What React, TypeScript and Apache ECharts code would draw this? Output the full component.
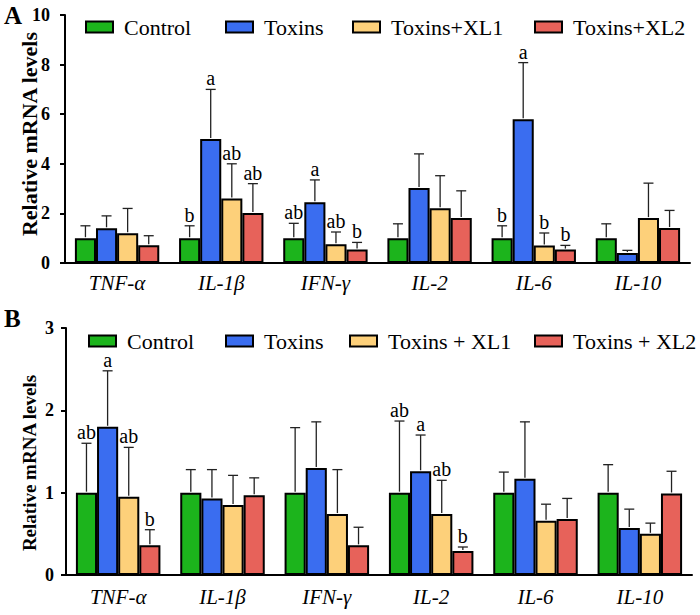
import React, { useEffect, useRef } from "react";
import * as echarts from "echarts";

const categories = ["TNF-α", "IL-1β", "IFN-γ", "IL-2", "IL-6", "IL-10"];

const groupNamesA = ["Control", "Toxins", "Toxins+XL1", "Toxins+XL2"];
const groupNamesB = ["Control", "Toxins", "Toxins + XL1", "Toxins + XL2"];
const colors = ["#1cb41c", "#3a6df0", "#fdd07a", "#e7625a"];

// Panel A means, SD, letters
const controlA = [1.0, 1.0, 1.0, 1.0, 1.0, 1.0];
const toxinsA = [1.4, 5.0, 2.45, 3.02, 5.8, 0.4];
const xl1A = [1.2, 2.6, 0.76, 2.21, 0.71, 1.81];
const xl2A = [0.72, 2.02, 0.54, 1.81, 0.54, 1.41];
const controlSdA = [0.5, 0.5, 0.6, 0.58, 0.5, 0.58];
const toxinsSdA = [0.5, 2.0, 0.9, 1.38, 2.28, 0.11];
const xl1SdA = [1.0, 1.4, 0.49, 1.31, 0.5, 1.41];
const xl2SdA = [0.38, 1.18, 0.29, 1.1, 0.17, 0.71];
const controlLabA = ["", "b", "ab", "", "b", ""];
const toxinsLabA = ["", "a", "a", "", "a", ""];
const xl1LabA = ["", "ab", "ab", "", "b", ""];
const xl2LabA = ["", "ab", "b", "", "b", ""];

// Panel B means, SD, letters
const controlB = [1.0, 1.0, 1.0, 1.0, 1.0, 1.0];
const toxinsB = [1.8, 0.93, 1.3, 1.26, 1.17, 0.57];
const xl1B = [0.95, 0.85, 0.74, 0.74, 0.66, 0.5];
const xl2B = [0.36, 0.97, 0.36, 0.29, 0.68, 0.99];
const controlSdB = [0.6, 0.28, 0.79, 0.87, 0.25, 0.34];
const toxinsSdB = [0.68, 0.35, 0.56, 0.44, 0.69, 0.23];
const xl1SdB = [0.6, 0.36, 0.54, 0.41, 0.2, 0.13];
const xl2SdB = [0.19, 0.21, 0.22, 0.05, 0.25, 0.27];
const controlLabB = ["ab", "", "", "ab", "", ""];
const toxinsLabB = ["a", "", "", "a", "", ""];
const xl1LabB = ["ab", "", "", "ab", "", ""];
const xl2LabB = ["b", "", "", "b", "", ""];

const yTicksA = { min: 0, max: 10, interval: 2 };
const yTicksB = { min: 0, max: 3, interval: 1 };

const SERIF = "Liberation Serif";
const CAT_GAP = 0.19;

export default function App() {
  const ref = useRef<HTMLDivElement>(null);

  useEffect(() => {
    if (!ref.current) return;
    const chart = echarts.init(ref.current, undefined, { renderer: "svg" });

    const panels = [
      {
        names: groupNamesA,
        means: [controlA, toxinsA, xl1A, xl2A],
        sds: [controlSdA, toxinsSdA, xl1SdA, xl2SdA],
        labs: [controlLabA, toxinsLabA, xl1LabA, xl2LabA],
      },
      {
        names: groupNamesB,
        means: [controlB, toxinsB, xl1B, xl2B],
        sds: [controlSdB, toxinsSdB, xl1SdB, xl2SdB],
        labs: [controlLabB, toxinsLabB, xl1LabB, xl2LabB],
      },
    ];

    const series: any[] = [];
    panels.forEach((p, pi) => {
      p.names.forEach((name, g) => {
        series.push({
          type: "bar",
          name,
          xAxisIndex: pi,
          yAxisIndex: pi,
          data: p.means[g],
          barGap: "0%",
          barCategoryGap: CAT_GAP * 100 + "%",
          itemStyle: { color: colors[g], borderColor: "#000", borderWidth: 2 },
          z: 2,
        });
      });
      p.names.forEach((name, g) => {
        const labs = p.labs[g];
        series.push({
          type: "custom",
          name: name + "-err",
          xAxisIndex: pi,
          yAxisIndex: pi,
          z: 3,
          data: p.means[g].map((m, i) => [i, m, p.sds[g][i]]),
          renderItem: (params: any, api: any) => {
            const idx = api.value(0);
            const mean = api.value(1);
            const sd = api.value(2);
            const c = api.coord([idx, mean]);
            const t = api.coord([idx, mean + sd]);
            const band = api.size([1, 0])[0];
            const bw = (band * (1 - CAT_GAP)) / 4;
            const cx = c[0] + (g - 1.5) * bw;
            const children: any[] = [
              {
                type: "line",
                shape: { x1: cx, y1: c[1] - 1, x2: cx, y2: t[1] },
                style: { stroke: "#222", lineWidth: 1.3 },
              },
              {
                type: "line",
                shape: { x1: cx - 5, y1: t[1], x2: cx + 5, y2: t[1] },
                style: { stroke: "#222", lineWidth: 1.3 },
              },
            ];
            const lab = labs[params.dataIndex];
            if (lab) {
              children.push({
                type: "text",
                x: cx,
                y: t[1] - 1,
                style: {
                  text: lab,
                  align: "center",
                  verticalAlign: "bottom",
                  fontFamily: SERIF,
                  fontSize: 20,
                  fill: "#000",
                },
              });
            }
            return { type: "group", children };
          },
        });
      });
    });

    const legendCommon = {
      icon: "rect",
      itemWidth: 27,
      itemHeight: 11,
      selectedMode: false,
      textStyle: {
        fontFamily: SERIF,
        fontSize: 22,
        color: "#000",
        lineHeight: 24,
        padding: [0, 0, 0, 6],
      },
    };
    const legendLeftA = [80, 220, 347, 529];
    const legendLeftB = [83, 220, 344, 529];
    const legends: any[] = [];
    groupNamesA.forEach((n, i) =>
      legends.push({ ...legendCommon, data: [n], left: legendLeftA[i], top: 10 })
    );
    groupNamesB.forEach((n, i) =>
      legends.push({ ...legendCommon, data: [n], left: legendLeftB[i], top: 324 })
    );

    const xAxisBase = (margin: number) => ({
      type: "category",
      data: categories,
      axisLine: { lineStyle: { color: "#000", width: 2 } },
      axisTick: { alignWithLabel: true, length: 5, lineStyle: { color: "#000", width: 2 } },
      axisLabel: {
        fontFamily: SERIF,
        fontStyle: "italic",
        fontSize: 21,
        color: "#000",
        margin,
      },
    });
    const yAxisBase = (t: any, margin: number) => ({
      type: "value",
      min: t.min,
      max: t.max,
      interval: t.interval,
      splitLine: { show: false },
      axisLine: { show: true, lineStyle: { color: "#000", width: 2 } },
      axisTick: { show: true, length: 5, lineStyle: { color: "#000", width: 2 } },
      axisLabel: {
        fontFamily: SERIF,
        fontWeight: "bold",
        fontSize: 18,
        color: "#000",
        margin,
      },
    });

    chart.setOption({
      animation: false,
      backgroundColor: "#fff",
      textStyle: { fontFamily: SERIF },
      grid: [
        { left: 65, right: 10, top: 15, bottom: 352 },
        { left: 66, right: 8, top: 328, bottom: 40 },
      ],
      legend: legends,
      xAxis: [
        { ...xAxisBase(9), gridIndex: 0 },
        { ...xAxisBase(11), gridIndex: 1 },
      ],
      yAxis: [
        { ...yAxisBase(yTicksA, 15), gridIndex: 0 },
        { ...yAxisBase(yTicksB, 12), gridIndex: 1 },
      ],
      series,
      graphic: [
        {
          type: "text",
          x: 4,
          y: 15,
          style: {
            text: "A",
            fontFamily: SERIF,
            fontWeight: "bold",
            fontSize: 25,
            fill: "#000",
            verticalAlign: "middle",
          },
        },
        {
          type: "text",
          x: 4,
          y: 318,
          style: {
            text: "B",
            fontFamily: SERIF,
            fontWeight: "bold",
            fontSize: 25,
            fill: "#000",
            verticalAlign: "middle",
          },
        },
        {
          type: "text",
          x: 29.5,
          y: 134,
          rotation: Math.PI / 2,
          style: {
            text: "Relative mRNA levels",
            fontFamily: SERIF,
            fontWeight: "bold",
            fontSize: 22,
            fill: "#000",
            align: "center",
            verticalAlign: "middle",
          },
        },
        {
          type: "text",
          x: 29.5,
          y: 463,
          rotation: Math.PI / 2,
          style: {
            text: "Relative mRNA levels",
            fontFamily: SERIF,
            fontWeight: "bold",
            fontSize: 19,
            fill: "#000",
            align: "center",
            verticalAlign: "middle",
          },
        },
      ],
    });

    return () => chart.dispose();
  }, []);

  return (
    <div
      ref={ref}
      style={{ position: "absolute", left: 0, top: 0, width: 700, height: 615 }}
    />
  );
}
